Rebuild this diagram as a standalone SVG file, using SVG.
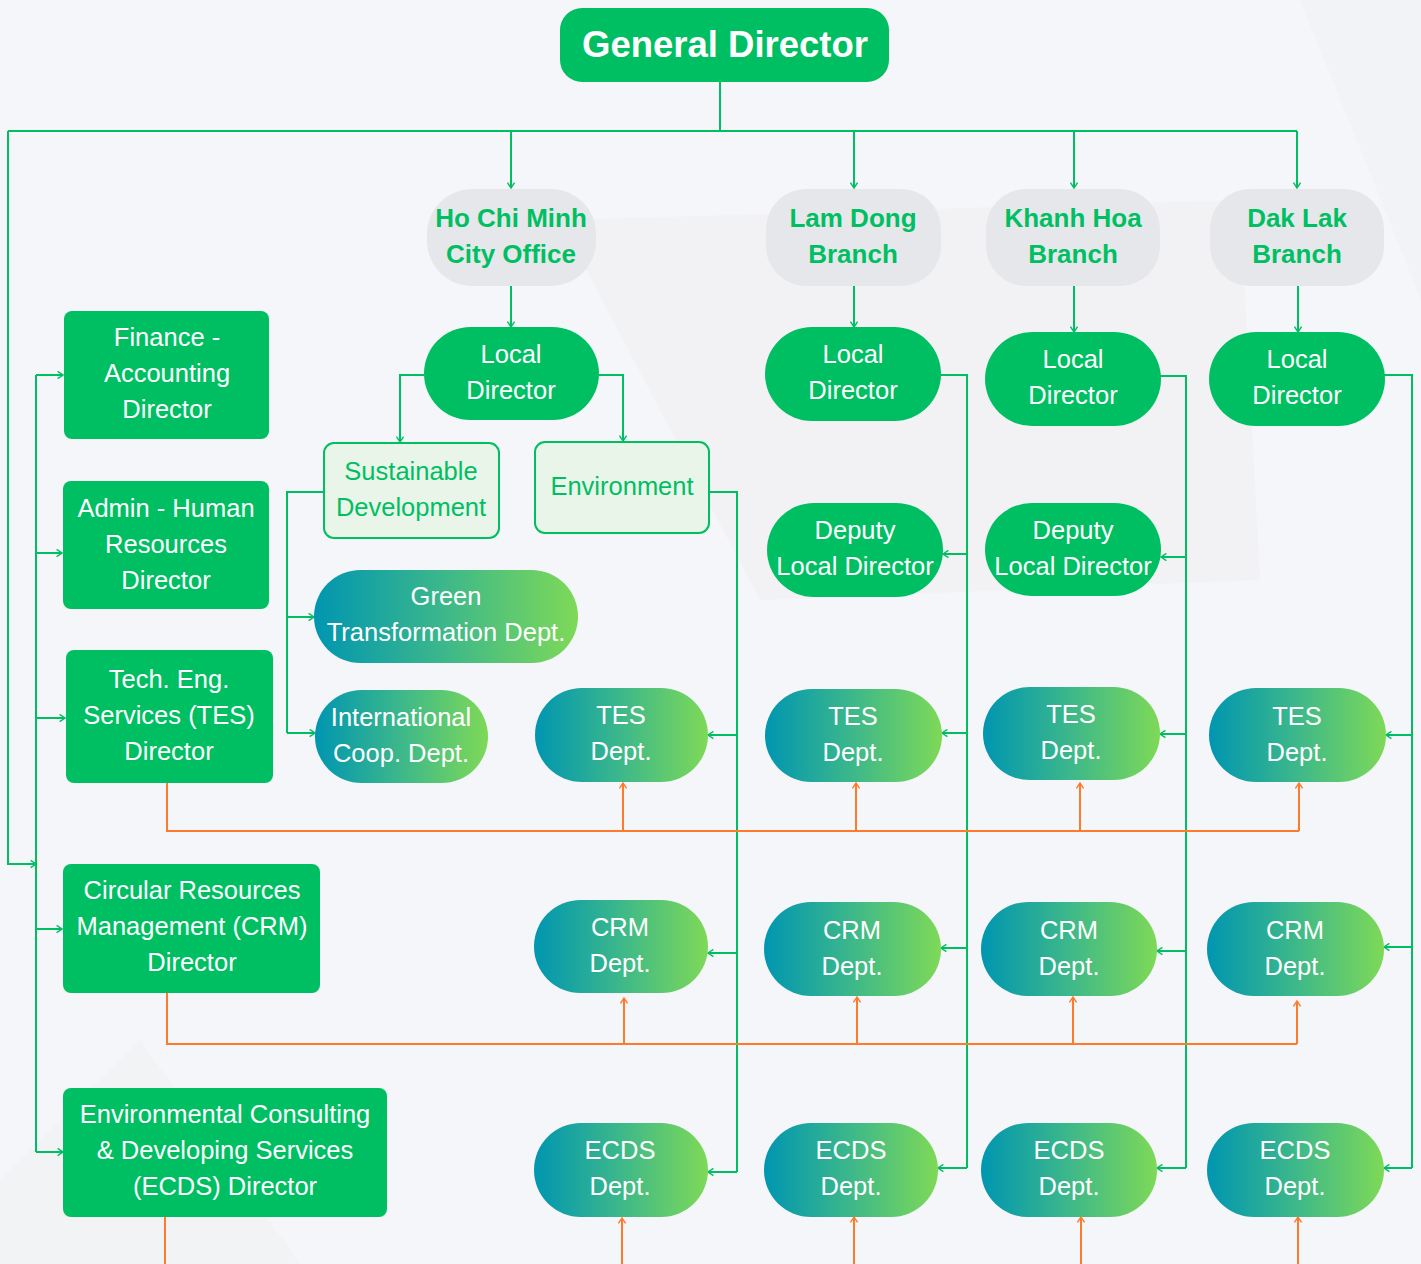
<svg xmlns="http://www.w3.org/2000/svg" width="1421" height="1264" viewBox="0 0 1421 1264">
<defs>
<linearGradient id="pill" x1="0" y1="0" x2="1" y2="0">
<stop offset="0" stop-color="#0096b1"/>
<stop offset="0.5" stop-color="#3db88a"/>
<stop offset="1" stop-color="#7ed957"/>
</linearGradient>
<marker id="ag" viewBox="0 0 10 10" refX="9" refY="5" markerWidth="9" markerHeight="9" markerUnits="userSpaceOnUse" orient="auto">
<path d="M3,1 L9,5 L3,9" fill="none" stroke="#00bf63" stroke-width="1.6"/>
</marker>
<marker id="ao" viewBox="0 0 10 10" refX="9" refY="5" markerWidth="9" markerHeight="9" markerUnits="userSpaceOnUse" orient="auto">
<path d="M3,1 L9,5 L3,9" fill="none" stroke="#ff7a2a" stroke-width="1.6"/>
</marker>
</defs>
<style>
.g{fill:none;stroke:#00bf63;stroke-width:2}
.o{fill:none;stroke:#ff7a2a;stroke-width:2}
.ga{marker-end:url(#ag)}
.oa{marker-end:url(#ao)}
.box{fill:#00bf63}
.br{fill:#e6e7ea}
.lt{fill:#eaf5ea;stroke:#00bf63;stroke-width:2}
.pl{fill:url(#pill)}
text{font-family:"Liberation Sans",Arial,sans-serif;text-anchor:middle}
.w{fill:#ffffff;font-size:25.5px}
.gt{fill:#00bf63;font-size:25.5px}
.bt{fill:#00bf63;font-size:26px;font-weight:bold}
</style>
<g id="background">
<rect x="0" y="0" width="1421" height="1264" fill="#f5f6f9"/>
<polygon points="560,220 1240,200 1260,580 760,600" fill="#eeeef0" opacity="0.4"/>
<polygon points="1300,0 1421,0 1421,300" fill="#eef0f2" opacity="0.4"/>
<polygon points="0,1180 140,1040 300,1264 0,1264" fill="#eceeef" opacity="0.35"/>
</g>
<g id="connectors">
<path class="g" d="M720,82 V131"/>
<path class="g" d="M8,131 H1297"/>
<path class="g ga" d="M511,131 V188"/>
<path class="g ga" d="M854,131 V188"/>
<path class="g ga" d="M1074,131 V188"/>
<path class="g ga" d="M1297,131 V188"/>
<path class="g ga" d="M8,131 V864 H36"/>
<path class="g" d="M36,375 V1152"/>
<path class="g ga" d="M36,375 H63"/>
<path class="g ga" d="M36,553 H62"/>
<path class="g ga" d="M36,718 H65"/>
<path class="g ga" d="M36,929 H62"/>
<path class="g ga" d="M36,1152 H63"/>
<path class="g ga" d="M511,286 V327"/>
<path class="g ga" d="M854,286 V327"/>
<path class="g ga" d="M1074,286 V332"/>
<path class="g ga" d="M1298,286 V332"/>
<path class="g ga" d="M424,375 H400 V442"/>
<path class="g ga" d="M599,375 H623 V441"/>
<path class="g" d="M324,492 H287 V733"/>
<path class="g ga" d="M287,617 H314"/>
<path class="g ga" d="M287,733 H315"/>
<path class="g" d="M709,492 H737 V1172"/>
<path class="g ga" d="M737,735 H708"/>
<path class="g ga" d="M737,953 H708"/>
<path class="g ga" d="M737,1172 H708"/>
<path class="g" d="M940,375 H967 V1168"/>
<path class="g ga" d="M967,554 H943"/>
<path class="g ga" d="M967,733 H942"/>
<path class="g ga" d="M967,948 H941"/>
<path class="g ga" d="M967,1168 H938"/>
<path class="g" d="M1160,376 H1186 V1168"/>
<path class="g ga" d="M1186,557 H1161"/>
<path class="g ga" d="M1186,734 H1160"/>
<path class="g ga" d="M1186,951 H1157"/>
<path class="g ga" d="M1186,1168 H1157"/>
<path class="g" d="M1384,375 H1412 V1168"/>
<path class="g ga" d="M1412,735 H1386"/>
<path class="g ga" d="M1412,947 H1384"/>
<path class="g ga" d="M1412,1168 H1384"/>
<path class="o" d="M167,783 V831 H1299"/>
<path class="o oa" d="M623,831 V783"/>
<path class="o oa" d="M856,831 V783"/>
<path class="o oa" d="M1080,831 V783"/>
<path class="o oa" d="M1299,831 V783"/>
<path class="o" d="M167,993 V1044 H1297"/>
<path class="o oa" d="M624,1044 V998"/>
<path class="o oa" d="M857,1044 V997"/>
<path class="o oa" d="M1073,1044 V997"/>
<path class="o oa" d="M1297,1044 V1001"/>
<path class="o" d="M165,1217 V1264"/>
<path class="o oa" d="M622,1264 V1218"/>
<path class="o oa" d="M854,1264 V1217"/>
<path class="o oa" d="M1081,1264 V1217"/>
<path class="o oa" d="M1298,1264 V1217"/>
</g>
<g id="general-director">
<rect class="box" x="560" y="8" width="329" height="74" rx="22"/>
<text x="725" y="57" fill="#ffffff" font-size="36.5" font-weight="bold">General Director</text>
</g>
<g id="hcm-office">
<rect class="br" x="427" y="189" width="169" height="97" rx="45"/>
<text class="bt" x="511" y="227">Ho Chi Minh</text>
<text class="bt" x="511" y="263">City Office</text>
</g>
<g id="lamdong-branch">
<rect class="br" x="766" y="189" width="175" height="97" rx="40"/>
<text class="bt" x="853" y="227">Lam Dong</text>
<text class="bt" x="853" y="263">Branch</text>
</g>
<g id="khanhhoa-branch">
<rect class="br" x="986" y="189" width="174" height="97" rx="40"/>
<text class="bt" x="1073" y="227">Khanh Hoa</text>
<text class="bt" x="1073" y="263">Branch</text>
</g>
<g id="daklak-branch">
<rect class="br" x="1210" y="189" width="174" height="97" rx="40"/>
<text class="bt" x="1297" y="227">Dak Lak</text>
<text class="bt" x="1297" y="263">Branch</text>
</g>
<g id="finance-director">
<rect class="box" x="64" y="311" width="205" height="128" rx="8"/>
<text class="w" x="167" y="346">Finance -</text>
<text class="w" x="167" y="382">Accounting</text>
<text class="w" x="167" y="418">Director</text>
</g>
<g id="admin-director">
<rect class="box" x="63" y="481" width="206" height="128" rx="8"/>
<text class="w" x="166" y="517">Admin - Human</text>
<text class="w" x="166" y="553">Resources</text>
<text class="w" x="166" y="589">Director</text>
</g>
<g id="tes-director">
<rect class="box" x="66" y="650" width="207" height="133" rx="8"/>
<text class="w" x="169" y="688">Tech. Eng.</text>
<text class="w" x="169" y="724">Services (TES)</text>
<text class="w" x="169" y="760">Director</text>
</g>
<g id="crm-director">
<rect class="box" x="63" y="864" width="257" height="129" rx="8"/>
<text class="w" x="192" y="899">Circular Resources</text>
<text class="w" x="192" y="935">Management (CRM)</text>
<text class="w" x="192" y="971">Director</text>
</g>
<g id="ecds-director">
<rect class="box" x="63" y="1088" width="324" height="129" rx="8"/>
<text class="w" x="225" y="1123">Environmental Consulting</text>
<text class="w" x="225" y="1159">&amp; Developing Services</text>
<text class="w" x="225" y="1195">(ECDS) Director</text>
</g>
<g id="hcm-local-director">
<rect class="box" x="424" y="327" width="175" height="93" rx="46.5"/>
<text class="w" x="511" y="363">Local</text>
<text class="w" x="511" y="399">Director</text>
</g>
<g id="lamdong-local-director">
<rect class="box" x="765" y="327" width="176" height="94" rx="47"/>
<text class="w" x="853" y="363">Local</text>
<text class="w" x="853" y="399">Director</text>
</g>
<g id="khanhhoa-local-director">
<rect class="box" x="985" y="332" width="176" height="94" rx="47"/>
<text class="w" x="1073" y="368">Local</text>
<text class="w" x="1073" y="404">Director</text>
</g>
<g id="daklak-local-director">
<rect class="box" x="1209" y="332" width="176" height="94" rx="47"/>
<text class="w" x="1297" y="368">Local</text>
<text class="w" x="1297" y="404">Director</text>
</g>
<g id="sustainable-development">
<rect class="lt" x="324" y="443" width="175" height="95" rx="10"/>
<text class="gt" x="411" y="480">Sustainable</text>
<text class="gt" x="411" y="516">Development</text>
</g>
<g id="environment">
<rect class="lt" x="535" y="442" width="174" height="91" rx="10"/>
<text class="gt" x="622" y="495">Environment</text>
</g>
<g id="lamdong-deputy">
<rect class="box" x="767" y="503" width="176" height="94" rx="47"/>
<text class="w" x="855" y="539">Deputy</text>
<text class="w" x="855" y="575">Local Director</text>
</g>
<g id="khanhhoa-deputy">
<rect class="box" x="985" y="503" width="176" height="93" rx="46.5"/>
<text class="w" x="1073" y="539">Deputy</text>
<text class="w" x="1073" y="575">Local Director</text>
</g>
<g id="green-transformation">
<rect class="pl" x="314" y="570" width="264" height="93" rx="46.5"/>
<text class="w" x="446" y="605">Green</text>
<text class="w" x="446" y="641">Transformation Dept.</text>
</g>
<g id="international-coop">
<rect class="pl" x="315" y="690" width="173" height="93" rx="46.5"/>
<text class="w" x="401" y="726">International</text>
<text class="w" x="401" y="762">Coop. Dept.</text>
</g>
<g id="hcm-tes">
<rect class="pl" x="535" y="688" width="173" height="94" rx="47"/>
<text class="w" x="621" y="724">TES</text>
<text class="w" x="621" y="760">Dept.</text>
</g>
<g id="lamdong-tes">
<rect class="pl" x="765" y="689" width="177" height="93" rx="46.5"/>
<text class="w" x="853" y="725">TES</text>
<text class="w" x="853" y="761">Dept.</text>
</g>
<g id="khanhhoa-tes">
<rect class="pl" x="983" y="687" width="177" height="93" rx="46.5"/>
<text class="w" x="1071" y="723">TES</text>
<text class="w" x="1071" y="759">Dept.</text>
</g>
<g id="daklak-tes">
<rect class="pl" x="1209" y="688" width="177" height="94" rx="47"/>
<text class="w" x="1297" y="725">TES</text>
<text class="w" x="1297" y="761">Dept.</text>
</g>
<g id="hcm-crm">
<rect class="pl" x="534" y="900" width="174" height="93" rx="46.5"/>
<text class="w" x="620" y="936">CRM</text>
<text class="w" x="620" y="972">Dept.</text>
</g>
<g id="lamdong-crm">
<rect class="pl" x="764" y="902" width="177" height="94" rx="47"/>
<text class="w" x="852" y="939">CRM</text>
<text class="w" x="852" y="975">Dept.</text>
</g>
<g id="khanhhoa-crm">
<rect class="pl" x="981" y="902" width="176" height="94" rx="47"/>
<text class="w" x="1069" y="939">CRM</text>
<text class="w" x="1069" y="975">Dept.</text>
</g>
<g id="daklak-crm">
<rect class="pl" x="1207" y="902" width="177" height="94" rx="47"/>
<text class="w" x="1295" y="939">CRM</text>
<text class="w" x="1295" y="975">Dept.</text>
</g>
<g id="hcm-ecds">
<rect class="pl" x="534" y="1123" width="174" height="94" rx="47"/>
<text class="w" x="620" y="1159">ECDS</text>
<text class="w" x="620" y="1195">Dept.</text>
</g>
<g id="lamdong-ecds">
<rect class="pl" x="764" y="1123" width="174" height="94" rx="47"/>
<text class="w" x="851" y="1159">ECDS</text>
<text class="w" x="851" y="1195">Dept.</text>
</g>
<g id="khanhhoa-ecds">
<rect class="pl" x="981" y="1123" width="176" height="94" rx="47"/>
<text class="w" x="1069" y="1159">ECDS</text>
<text class="w" x="1069" y="1195">Dept.</text>
</g>
<g id="daklak-ecds">
<rect class="pl" x="1207" y="1123" width="177" height="94" rx="47"/>
<text class="w" x="1295" y="1159">ECDS</text>
<text class="w" x="1295" y="1195">Dept.</text>
</g>
</svg>
